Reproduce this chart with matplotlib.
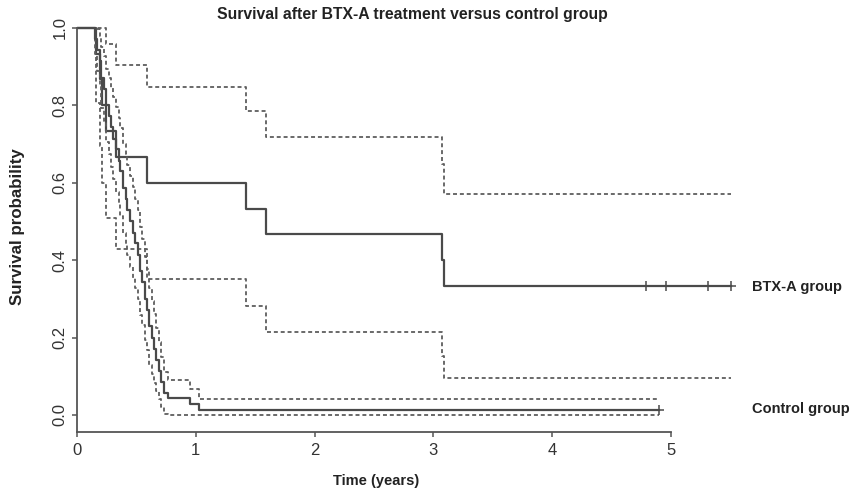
import numpy as np
import matplotlib
matplotlib.use("Agg")
import matplotlib.pyplot as plt

plt.rcParams['font.family'] = ['Liberation Sans', 'DejaVu Sans']

# ---- data ----
btx_times = [0.0, 0.16, 0.19, 0.21, 0.245, 0.33, 0.59, 1.42, 1.59, 3.07, 3.09]
btx_surv = [1.0, 0.933, 0.867, 0.800, 0.733, 0.667, 0.600, 0.533, 0.467, 0.400, 0.333]
btx_lower = [1.0, 0.807, 0.695, 0.598, 0.509, 0.428, 0.352, 0.281, 0.214, 0.152, 0.095]
btx_upper = [1.0, 1.0, 1.0, 1.0, 0.957, 0.905, 0.848, 0.786, 0.719, 0.648, 0.572]
btx_end = 5.51
btx_censor = [4.79, 4.96, 5.31, 5.51]

ctl_times = [0.0, 0.15, 0.165, 0.19, 0.205, 0.23, 0.245, 0.27, 0.29, 0.305, 0.33,
             0.35, 0.365, 0.39, 0.41, 0.425, 0.45, 0.47, 0.485, 0.51, 0.53,
             0.545, 0.57, 0.59, 0.605, 0.63, 0.65, 0.665, 0.69, 0.71, 0.735,
             0.77, 0.95, 1.03]
ctl_surv = [1.0, 0.971, 0.943, 0.914, 0.871, 0.843, 0.800, 0.771, 0.743, 0.714, 0.686,
            0.657, 0.629, 0.586, 0.557, 0.529, 0.500, 0.471, 0.443, 0.414, 0.371,
            0.343, 0.300, 0.271, 0.229, 0.200, 0.171, 0.143, 0.114, 0.086, 0.057,
            0.043, 0.029, 0.014]
ctl_lower = [1.0, 0.932, 0.889, 0.849, 0.793, 0.758, 0.706, 0.673, 0.641, 0.609, 0.577,
             0.546, 0.515, 0.470, 0.441, 0.412, 0.383, 0.355, 0.327, 0.299, 0.258,
             0.232, 0.193, 0.167, 0.130, 0.106, 0.083, 0.061, 0.040, 0.020, 0.003,
             0.0, 0.0, 0.0]
ctl_upper = [1.0, 1.0, 0.997, 0.980, 0.950, 0.928, 0.894, 0.870, 0.845, 0.820, 0.795,
             0.768, 0.742, 0.701, 0.674, 0.646, 0.617, 0.588, 0.559, 0.530, 0.485,
             0.454, 0.407, 0.376, 0.327, 0.294, 0.260, 0.225, 0.189, 0.151, 0.112,
             0.090, 0.068, 0.042]
ctl_end = 4.90
ctl_censor = [4.90]

x_ticks = [0, 1, 2, 3, 4, 5]
y_ticks = [0.0, 0.2, 0.4, 0.6, 0.8, 1.0]
y_ticklabels = ["0.0", "0.2", "0.4", "0.6", "0.8", "1.0"]

title = "Survival after BTX-A treatment versus control group"
xlabel = "Time (years)"
ylabel = "Survival probability"
group_labels = ["BTX-A group", "Control group"]

# ---- figure ----
W, H = 851, 494
fig = plt.figure(figsize=(W / 100, H / 100), dpi=100)
ax = fig.add_axes([77 / W, 0.1255, 772 / W, 0.8543])
ax.set_xlim(0, 6.5)
ax.set_ylim(-0.044, 1.046)

solid_c = "#4a4a4a"
dash_c = "#5e5e5e"
dash_style = (0, (2.2, 1.6))


def draw(times, surv, lower, upper, end, censor):
    t = np.append(times, end)
    s = np.append(surv, surv[-1])
    lo = np.append(lower, lower[-1])
    up = np.append(upper, upper[-1])
    ax.step(t, lo, where='post', color=dash_c, lw=1.3, linestyle=dash_style)
    ax.step(t, up, where='post', color=dash_c, lw=1.3, linestyle=dash_style)
    ax.step(t, s, where='post', color=solid_c, lw=1.6)
    ax.plot(censor, [surv[-1]] * len(censor), linestyle='none', marker='+',
            markersize=7, markeredgewidth=1.1, color=solid_c)


draw(btx_times, btx_surv, btx_lower, btx_upper, btx_end, btx_censor)
draw(ctl_times, ctl_surv, ctl_lower, ctl_upper, ctl_end, ctl_censor)

ax.text(5.68, 0.331, group_labels[0], fontsize=10.5, fontweight='bold',
        color='#222222', va='center', ha='left')
ax.text(5.68, 0.015, group_labels[1], fontsize=10.5, fontweight='bold',
        color='#222222', va='center', ha='left')

# axes styling (R-like)
for side in ['top', 'right']:
    ax.spines[side].set_visible(False)
ax.spines['left'].set_bounds(-0.044, 1.0)
ax.spines['bottom'].set_bounds(0, 5)
for side in ['left', 'bottom']:
    ax.spines[side].set_color('#555555')
    ax.spines[side].set_linewidth(1.3)

ax.set_xticks(x_ticks)
ax.set_xticklabels([str(v) for v in x_ticks])
ax.set_yticks(y_ticks)
ax.set_yticklabels(y_ticklabels, rotation=90, va='center')
ax.tick_params(axis='both', length=3.6, width=1.1, color='#555555',
               labelsize=12, labelcolor='#333333')
ax.tick_params(axis='x', pad=4.0)
ax.tick_params(axis='y', pad=3.0)

fig.text(376 / W, 1 - 481 / H, xlabel, fontsize=10.5, fontweight='bold',
         color='#222222', ha='center', va='center')
fig.text(18 / W, 1 - 226.5 / H, ylabel, fontsize=12.2, fontweight='bold',
         color='#222222', ha='center', va='center', rotation=90)

fig.text(412 / W, 1 - 15 / H, title, fontsize=11.3, fontweight='bold',
         color='#222222', ha='center', va='center')

fig.savefig("out.png", dpi=100)
